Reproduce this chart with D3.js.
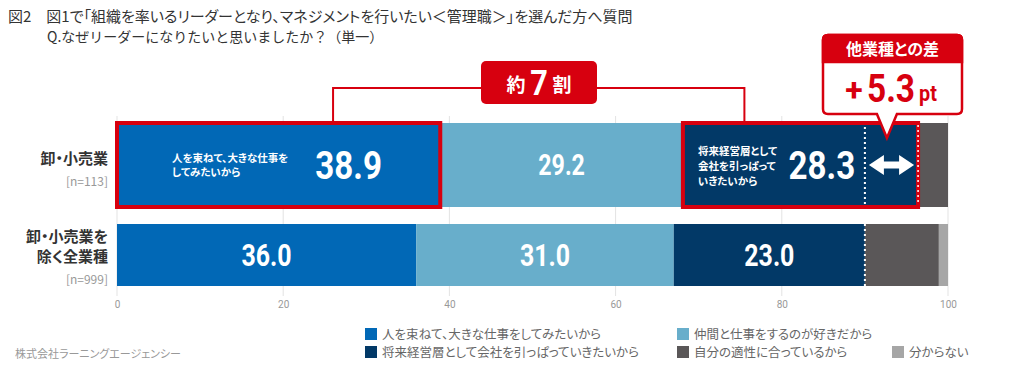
<!DOCTYPE html>
<html><head><meta charset="utf-8">
<script src="https://cdn.jsdelivr.net/npm/d3@7"></script>
<style>
body{margin:0;background:#fff;}
svg{display:block;}
.jp{font-family:"Noto Sans CJK JP","Noto Sans",sans-serif;font-feature-settings:"palt";}
.jpn{font-family:"Noto Sans CJK JP","Noto Sans",sans-serif;}
.num{font-family:"Roboto","Liberation Sans",sans-serif;font-weight:700;}
</style></head>
<body>
<svg id="c" width="1020" height="368"></svg>
<script>
// ---- data ----
const categories = ["卸・小売業", "卸・小売業を除く全業種"];
const categoryLines = [["卸・小売業"], ["卸・小売業を", "除く全業種"]];
const sampleSizes = ["[n=113]", "[n=999]"];
const seriesNames = ["人を束ねて、大きな仕事をしてみたいから", "仲間と仕事をするのが好きだから", "将来経営層として会社を引っぱっていきたいから", "自分の適性に合っているから", "分からない"];
const retailValues = [38.9, 29.2, 28.3, 3.6, 0.0];
const otherValues = [36.0, 31.0, 23.0, 8.9, 1.1];
const tickValues = [0, 20, 40, 60, 80, 100];
const title1 = "図2　図1で「組織を率いるリーダーとなり、マネジメントを行いたい＜管理職＞」を選んだ方へ質問";
const title2 = "Q.なぜリーダーになりたいと思いましたか？（単一）";
const footer = "株式会社ラーニングエージェンシー";
const bracketEnds = [26, 75.5];          // bracket anchors in axis units
const diffValue = 5.3;

// ---- styles ----
const colors = ["#0168b6", "#68aecb", "#023967", "#5a5758", "#a6a6a6"];
const red = "#d7000f";
const barHeights = [84, 62];

const svg = d3.select("#c");
const x = d3.scaleLinear().domain([0, 100]).range([117, 948]);
const y = d3.scaleBand().domain(categories).range([120, 300]);
const rows = [retailValues, otherValues];

// condensed number text helper
function numText(parent, cx, cy, size, txt, fill, sx) {
  const g = parent.append("g").attr("transform", `translate(${cx},${cy}) scale(${sx||0.8},1)`);
  return g.append("text").attr("class","num").attr("text-anchor","middle").attr("font-size",size).attr("fill",fill).text(txt);
}

// title
svg.append("text").attr("class","jp").attr("x",8).attr("y",22).attr("font-size",15).attr("fill","#333").text(title1);
svg.append("text").attr("class","jpn").attr("x",47).attr("y",42).attr("font-size",14).attr("fill","#333").text(title2);

// gridlines + axis
const axis = d3.axisBottom(x).tickValues(tickValues).tickSize(0).tickPadding(0);
const gAxis = svg.append("g").attr("transform","translate(0,299)").call(axis);
gAxis.select(".domain").remove();
gAxis.selectAll("text").attr("font-family","Roboto, sans-serif").attr("font-size",10).attr("fill","#999").attr("dy","0.9em");
svg.append("g").selectAll("line").data(tickValues).join("line")
  .attr("x1",d=>x(d)).attr("x2",d=>x(d)).attr("y1",116).attr("y2",296)
  .attr("stroke","#e3e3e3").attr("stroke-width",1);

// bars
rows.forEach((vals, ri) => {
  const cat = categories[ri];
  const cy = y(cat) + y.bandwidth()/2;
  const h = barHeights[ri];
  let cum = 0;
  const segs = vals.map((v,i)=>{const s={x0:cum,x1:cum+v,v,i}; cum+=v; return s;});
  svg.append("g").selectAll("rect").data(segs.filter(s=>s.v>0)).join("rect")
    .attr("x",s=>x(s.x0)).attr("width",s=>x(s.x1)-x(s.x0))
    .attr("y",cy-h/2).attr("height",h).attr("fill",s=>colors[s.i]);
});

// row labels
categoryLines.forEach((lines, ri) => {
  const cy = y(categories[ri]) + y.bandwidth()/2;
  const n = lines.length;
  const top = ri===0 ? cy-1 : cy-13;
  lines.forEach((l,li)=>{
    svg.append("text").attr("class","jp").attr("x",108).attr("y",top + li*20)
      .attr("text-anchor","end").attr("font-size",15).attr("font-weight",700).attr("fill","#333").text(l);
  });
  svg.append("text").attr("class","jp").attr("x",108).attr("y",top + (n-1)*20 + 22)
    .attr("text-anchor","end").attr("font-size",12).attr("fill","#999").text(sampleSizes[ri]);
});

// value labels row 2
{
  const cy = y(categories[1]) + y.bandwidth()/2;
  let cum = 0;
  otherValues.slice(0,3).forEach((v,i)=>{
    numText(svg, x(cum+v/2), cy+11, 32, v.toFixed(1), "#fff", 0.78);
    cum+=v;
  });
}
// value labels row 1
{
  const cy = y(categories[0]) + y.bandwidth()/2;
  const v = retailValues;
  numText(svg, x(v[0]/2)+70, cy+14, 39, v[0].toFixed(1), "#fff", 0.85);
  const t1 = svg.append("text").attr("class","jp").attr("font-size",10.5).attr("font-weight",700).attr("fill","#fff");
  ["人を束ねて、大きな仕事を","してみたいから"].forEach((l,i)=>t1.append("tspan").attr("x",x(0)+55).attr("y",cy-3+i*14).text(l));
  numText(svg, x(v[0]+v[1]/2), cy+10, 29, v[1].toFixed(1), "#fff", 0.8);
  const s3 = v[0]+v[1];
  numText(svg, x(s3)+139, cy+14, 39, v[2].toFixed(1), "#fff", 0.85);
  const t3 = svg.append("text").attr("class","jp").attr("font-size",10.5).attr("font-weight",700).attr("fill","#fff");
  ["将来経営層として","会社を引っぱって","いきたいから"].forEach((l,i)=>t3.append("tspan").attr("x",x(s3)+15).attr("y",cy-10+i*15).text(l));
}

// red highlight borders
{
  const cy = y(categories[0]) + y.bandwidth()/2;
  const h = barHeights[0];
  const v = retailValues;
  [[0, v[0]], [v[0]+v[1], v[0]+v[1]+v[2]]].forEach(([a,b])=>{
    svg.append("rect").attr("x",x(a)).attr("y",cy-h/2).attr("width",x(b)-x(a)).attr("height",h)
      .attr("fill","none").attr("stroke",red).attr("stroke-width",4);
  });
}

// dotted lines and arrow
{
  const base = otherValues[0]+otherValues[1]+otherValues[2];
  const top = retailValues[0]+retailValues[1]+retailValues[2];
  const cy0 = y(categories[0]) + y.bandwidth()/2, h0 = barHeights[0];
  const cy1 = y(categories[1]) + y.bandwidth()/2, h1 = barHeights[1];
  svg.append("line").attr("x1",x(base)).attr("x2",x(base)).attr("y1",cy0-h0/2+4).attr("y2",cy0+h0/2-2)
    .attr("stroke","#fff").attr("stroke-width",2).attr("stroke-dasharray","2,3");
  svg.append("line").attr("x1",x(base)).attr("x2",x(base)).attr("y1",cy1-h1/2).attr("y2",cy1+h1/2)
    .attr("stroke","#fff").attr("stroke-width",2).attr("stroke-dasharray","2,3");
  svg.append("line").attr("x1",x(top)).attr("x2",x(top)).attr("y1",cy0-h0/2+2).attr("y2",cy0+h0/2-2)
    .attr("stroke","#fff").attr("stroke-width",1.5).attr("stroke-dasharray","2,3");
  const ax0 = x(base)+4, ax1 = x(top)-4;
  const hl = 15, hh = 10, sh = 3.5;
  const p = d3.path();
  p.moveTo(ax0,cy0); p.lineTo(ax0+hl,cy0-hh); p.lineTo(ax0+hl,cy0-sh); p.lineTo(ax1-hl,cy0-sh);
  p.lineTo(ax1-hl,cy0-hh); p.lineTo(ax1,cy0); p.lineTo(ax1-hl,cy0+hh); p.lineTo(ax1-hl,cy0+sh);
  p.lineTo(ax0+hl,cy0+sh); p.lineTo(ax0+hl,cy0+hh); p.closePath();
  svg.append("path").attr("d",p.toString()).attr("fill","#fff");
}

// bracket "約7割"
{
  const by = 88;
  const bl = x(bracketEnds[0]), br = x(bracketEnds[1]);
  const p = d3.path();
  p.moveTo(bl,121); p.lineTo(bl,by); p.lineTo(br,by); p.lineTo(br,121);
  svg.append("path").attr("d",p.toString()).attr("fill","none").attr("stroke",red).attr("stroke-width",2);
  svg.append("rect").attr("x",481).attr("y",61).attr("width",116).attr("height",43).attr("rx",5).attr("fill",red);
  svg.append("text").attr("class","jp").attr("x",516).attr("y",92).attr("text-anchor","middle")
    .attr("font-size",19).attr("font-weight",700).attr("fill","#fff").text("約");
  numText(svg, 539, 95, 36, "7", "#fff", 0.85);
  svg.append("text").attr("class","jp").attr("x",562).attr("y",92).attr("text-anchor","middle")
    .attr("font-size",19).attr("font-weight",700).attr("fill","#fff").text("割");
}

// callout "他業種との差"
{
  const bx = 823, bw = 139, byT = 35, byB = 114;
  const tipX = x((otherValues[0]+otherValues[1]+otherValues[2]) + diffValue/2);
  const p = d3.path();
  p.moveTo(bx+5,byT); p.lineTo(bx+bw-5,byT); p.quadraticCurveTo(bx+bw,byT,bx+bw,byT+5);
  p.lineTo(bx+bw,byB-5); p.quadraticCurveTo(bx+bw,byB,bx+bw-5,byB);
  p.lineTo(tipX+10,byB); p.lineTo(tipX,138); p.lineTo(tipX-10,byB);
  p.lineTo(bx+5,byB); p.quadraticCurveTo(bx,byB,bx,byB-5); p.lineTo(bx,byT+5); p.quadraticCurveTo(bx,byT,bx+5,byT); p.closePath();
  svg.append("path").attr("d",p.toString()).attr("fill","#fff").attr("stroke",red).attr("stroke-width",2.5).attr("stroke-linejoin","miter");
  const h = d3.path();
  h.moveTo(bx+5,byT); h.lineTo(bx+bw-5,byT); h.quadraticCurveTo(bx+bw,byT,bx+bw,byT+5);
  h.lineTo(bx+bw,62); h.lineTo(bx,62); h.lineTo(bx,byT+5); h.quadraticCurveTo(bx,byT,bx+5,byT); h.closePath();
  svg.append("path").attr("d",h.toString()).attr("fill",red).attr("stroke",red).attr("stroke-width",2.5);
  svg.append("text").attr("class","jp").attr("x",bx+bw/2).attr("y",55).attr("text-anchor","middle")
    .attr("font-size",16).attr("font-weight",700).attr("fill","#fff").text("他業種との差");
  numText(svg, 854, 101, 32, "+", red, 1);
  numText(svg, 891, 102, 38, diffValue.toFixed(1), red, 0.88);
  numText(svg, 928, 101, 22, "pt", red, 0.9);
}

// legend
{
  const pos = [[365,339],[677,339],[365,357],[677,357],[892,357]];
  seriesNames.forEach((name,k)=>{
    const [lx,ly] = pos[k];
    svg.append("rect").attr("x",lx).attr("y",ly-11).attr("width",12).attr("height",12).attr("fill",colors[k]);
    svg.append("text").attr("class","jp").attr("x",lx+17).attr("y",ly).attr("font-size",12.5).attr("fill","#666").text(name);
  });
}
svg.append("text").attr("class","jp").attr("x",15).attr("y",358).attr("font-size",11).attr("fill","#999").text(footer);
</script>
</body></html>
